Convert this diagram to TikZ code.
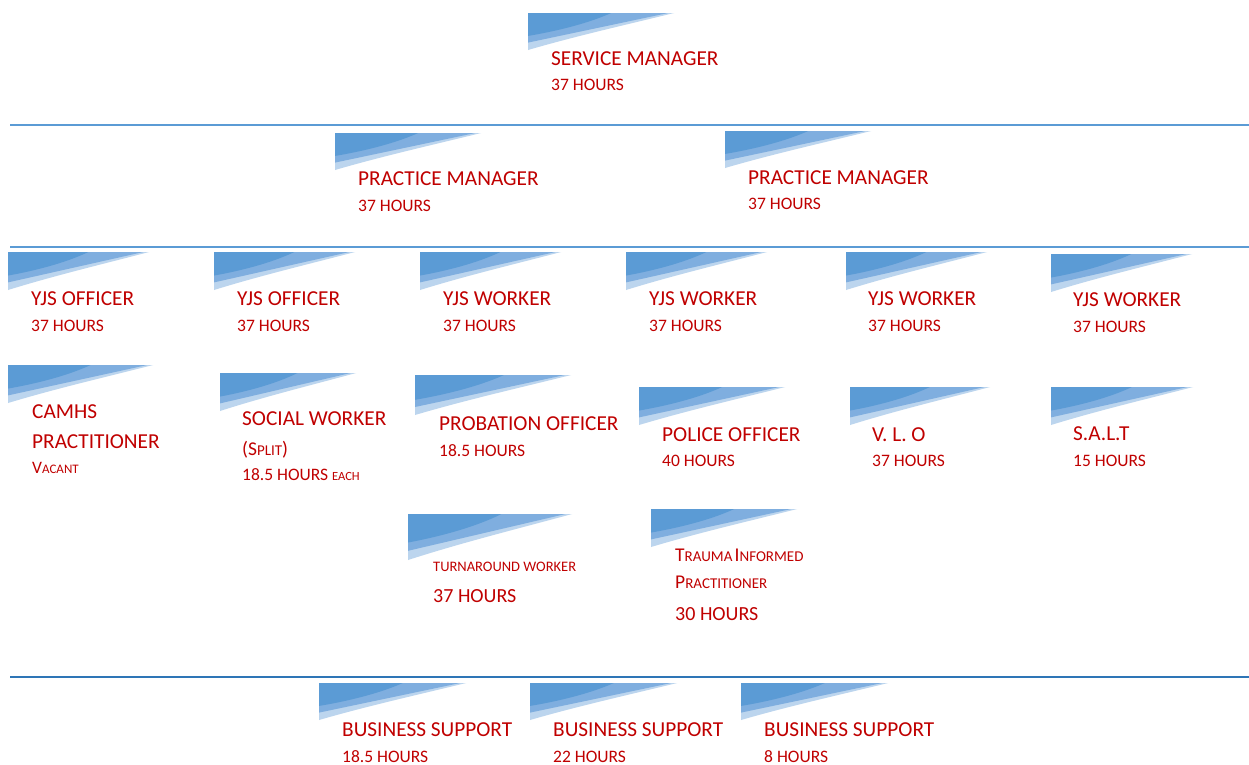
\documentclass[tikz,border=0pt]{standalone}
\usepackage{fontspec}
\setmainfont{Carlito}
\definecolor{wdark}{HTML}{5B9BD5}
\definecolor{wmid}{HTML}{7FAEDF}
\definecolor{wlight}{HTML}{BCD5EE}
\definecolor{txtred}{HTML}{C00000}
\definecolor{lineblue}{HTML}{5B9BD5}
\definecolor{lineblue2}{HTML}{2E75B6}
\newcommand{\orgwedge}[4]{%
  \fill[wlight] (#1,#2) -- ({#1+#3},#2) .. controls ({#1+0.66*#3},{#2+0.33*#4}) and ({#1+0.33*#3},{#2+0.62*#4}) .. (#1,{#2+#4}) -- cycle;
  \fill[wmid] (#1,#2) -- ({#1+0.96*#3},#2) .. controls ({#1+0.6*#3},{#2+0.3*#4}) and ({#1+0.3*#3},{#2+0.55*#4}) .. (#1,{#2+0.8*#4}) -- cycle;
  \fill[wdark] (#1,#2) -- ({#1+0.57*#3},#2) .. controls ({#1+0.4*#3},{#2+0.3*#4}) and ({#1+0.18*#3},{#2+0.5*#4}) .. (#1,{#2+0.62*#4}) -- cycle;
}
\newcommand{\fsc}[4]{{\fontsize{#1}{#1}\selectfont #3}{\fontsize{#2}{#2}\selectfont #4}}
\tikzset{
  ttl/.style={anchor=base west, inner sep=0pt, text=txtred, font=\fontsize{21.3}{24}\selectfont},
  hrs/.style={anchor=base west, inner sep=0pt, text=txtred, font=\fontsize{17.5}{20}\selectfont},
  sep/.style={draw=lineblue, line width=1.5pt},
  sepb/.style={draw=lineblue2, line width=2.5pt}
}
\begin{document}
\begin{tikzpicture}[x=1pt,y=-1pt]
\fill[white] (0,0) rectangle (1249,764);
\useasboundingbox (0,0) rectangle (1249,764);
% separators
\coordinate (l1a) at (10,125); \coordinate (l1b) at (1249,125);
\coordinate (l2a) at (10,247); \coordinate (l2b) at (1249,247);
\coordinate (l3a) at (10,677); \coordinate (l3b) at (1249,677);
\draw[sep] (l1a) -- (l1b);
\draw[sep] (l2a) -- (l2b);
\draw[sepb] (l3a) -- (l3b);
% row 0
\orgwedge{528}{13}{146}{37}
\node[ttl] (sm) at (551,65) {SERVICE MANAGER};
\node[hrs] (smh) at (551,90) {37 HOURS};
% row 1
\orgwedge{335}{133}{146}{37}
\node[ttl] (pm1) at (358,185) {PRACTICE MANAGER};
\node[hrs] (pm1h) at (358,211) {37 HOURS};
\orgwedge{725}{131}{146}{37}
\node[ttl] (pm2) at (748,184) {PRACTICE MANAGER};
\node[hrs] (pm2h) at (748,209) {37 HOURS};
% row 2
\orgwedge{8}{252}{141}{38}
\node[ttl] (y1) at (31,305) {YJS OFFICER};
\node[hrs] (y1h) at (31,331) {37 HOURS};
\orgwedge{214}{252}{141}{38}
\node[ttl] (y2) at (237,305) {YJS OFFICER};
\node[hrs] (y2h) at (237,331) {37 HOURS};
\orgwedge{420}{252}{141}{38}
\node[ttl] (y3) at (443,305) {YJS WORKER};
\node[hrs] (y3h) at (443,331) {37 HOURS};
\orgwedge{626}{252}{141}{38}
\node[ttl] (y4) at (649,305) {YJS WORKER};
\node[hrs] (y4h) at (649,331) {37 HOURS};
\orgwedge{846}{252}{141}{38}
\node[ttl] (y5) at (868,305) {YJS WORKER};
\node[hrs] (y5h) at (868,331) {37 HOURS};
\orgwedge{1051}{254}{141}{38}
\node[ttl] (y6) at (1073,306) {YJS WORKER};
\node[hrs] (y6h) at (1073,332) {37 HOURS};
% row 3
\orgwedge{8}{365}{145}{38}
\node[ttl] (ca1) at (32,418) {CAMHS};
\node[ttl] (ca2) at (32,448) {PRACTITIONER};
\node[anchor=base west, inner sep=0pt, text=txtred] (ca3) at (32,473) {\fsc{17.5}{13}{V}{ACANT}};
\orgwedge{220}{373}{136}{38}
\node[ttl] (sw1) at (242,425) {SOCIAL WORKER};
\node[anchor=base west, inner sep=0pt, text=txtred] (sw2) at (242,455) {\fsc{19.5}{15}{(S}{PLIT}\fontsize{19.5}{19.5}\selectfont)};
\node[anchor=base west, inner sep=0pt, text=txtred] (sw3) at (242,480) {\fsc{17.5}{12.5}{18.5 HOURS }{EACH}};
\orgwedge{415}{375}{156}{40}
\node[ttl] (po1) at (439,430) {PROBATION OFFICER};
\node[hrs] (po1h) at (439,456) {18.5 HOURS};
\orgwedge{639}{387}{146}{38}
\node[ttl] (pol) at (662,441) {POLICE OFFICER};
\node[hrs] (polh) at (662,466) {40 HOURS};
\orgwedge{850}{387}{140}{38}
\node[ttl] (vlo) at (872,441) {V. L. O};
\node[hrs] (vloh) at (872,466) {37 HOURS};
\orgwedge{1051}{387}{142}{38}
\node[ttl] (salt) at (1073,440) {S.A.L.T};
\node[hrs] (salth) at (1073,466) {15 HOURS};
% row 4
\orgwedge{408}{514}{164}{46}
\node[anchor=base west, inner sep=0pt, text=txtred, font=\fontsize{14.5}{16}\selectfont] (tw1) at (433,571) {TURNAROUND WORKER};
\node[anchor=base west, inner sep=0pt, text=txtred, font=\fontsize{20}{22}\selectfont] (tw2) at (433,602) {37 HOURS};
\orgwedge{651}{509}{146}{38}
\node[anchor=base west, inner sep=0pt, text=txtred] (tr1) at (675,561) {\fsc{19.5}{15}{T}{RAUMA} \fsc{19.5}{15}{I}{NFORMED}};
\node[anchor=base west, inner sep=0pt, text=txtred] (tr2) at (675,588) {\fsc{19.5}{15}{P}{RACTITIONER}};
\node[anchor=base west, inner sep=0pt, text=txtred, font=\fontsize{20}{22}\selectfont] (tr3) at (675,620) {30 HOURS};
% row 5
\orgwedge{319}{683}{147}{37}
\node[ttl] (bs1) at (342,736) {BUSINESS SUPPORT};
\node[hrs] (bs1h) at (342,762) {18.5 HOURS};
\orgwedge{530}{683}{147}{37}
\node[ttl] (bs2) at (553,736) {BUSINESS SUPPORT};
\node[hrs] (bs2h) at (553,762) {22 HOURS};
\orgwedge{741}{683}{147}{37}
\node[ttl] (bs3) at (764,736) {BUSINESS SUPPORT};
\node[hrs] (bs3h) at (764,762) {8 HOURS};
\end{tikzpicture}
\end{document}
